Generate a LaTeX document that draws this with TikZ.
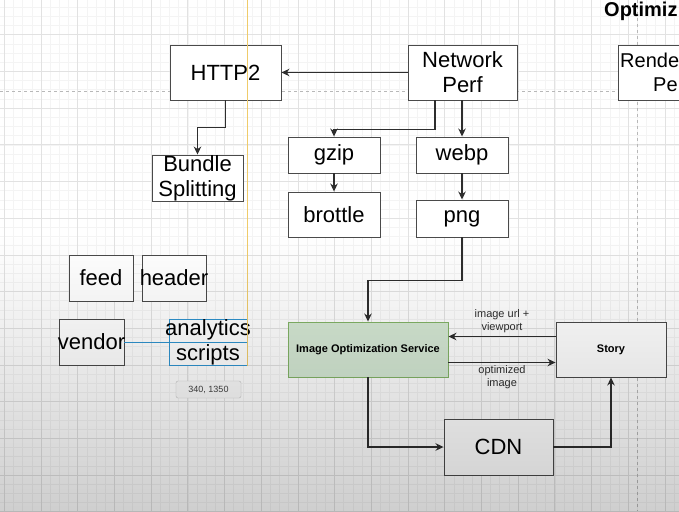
\documentclass[tikz,border=0pt]{standalone}
\usepackage{fontspec}
\setmainfont{Liberation Sans}
\usetikzlibrary{arrows.meta}
\definecolor{gridminor}{HTML}{F4F4F4}
\definecolor{gridmajor}{HTML}{E2E2E2}
\definecolor{pageline}{HTML}{B8B8B8}
\definecolor{boxline}{HTML}{4A4A4A}
\definecolor{linkline}{HTML}{2E2E2E}
\definecolor{iosfill}{HTML}{D5E8D4}
\definecolor{iosline}{HTML}{82B366}
\definecolor{selblue}{HTML}{2F93CF}
\definecolor{guideyellow}{HTML}{EFCB6A}

\tikzset{
  box/.style={draw=boxline, fill=white, line width=0.95pt, inner sep=0pt,
    align=center, font=\fontsize{22}{25}\selectfont},
  smallbox/.style={box, font=\fontsize{11}{13}\selectfont\bfseries},
  note/.style={align=center, text=linkline, font=\fontsize{11}{13}\selectfont},
  link/.style={draw=linkline, line width=1.2pt, -{Stealth[length=8pt,width=7.5pt]}},
  tooltip/.style={draw=gray!45, fill=gray!4, rounded corners=2pt, inner sep=0pt,
    minimum width=65pt, minimum height=17pt, text=black!75,
    font=\fontsize{9}{10}\selectfont},
}

\begin{document}
\begin{tikzpicture}[x=1pt, y=-1pt]
  \useasboundingbox (0,0) rectangle (679,511);
  \fill[white] (0,0) rectangle (679,511);

  % canvas grid
  \foreach \k in {0,...,75}
    \draw[gridminor, line width=0.6pt] ({-4.875+\k*9.175},0) -- ++(0,511);
  \foreach \k in {0,...,56}
    \draw[gridminor, line width=0.6pt] (0,{-2+\k*9.175}) -- ++(679,0);
  \foreach \k in {0,...,18}
    \draw[gridmajor, line width=0.7pt] ({4.3+\k*36.7},0) -- ++(0,511);
  \foreach \k in {1,...,14}
    \draw[gridmajor, line width=0.7pt] (0,{-2+\k*36.7}) -- ++(679,0);
  \draw[pageline, dashed, line width=0.7pt] (0,91) -- (679,91);
  \draw[pageline, dashed, line width=0.7pt] (637,0) -- (637,511);

  \node[anchor=base west, font=\fontsize{20}{24}\selectfont\bfseries, inner sep=0pt] (title) at (604,17) {Optimiz};

  \node[box, minimum width=111pt, minimum height=55pt] (http) at (225.5,72.5) {HTTP2};
  \node[box, minimum width=109pt, minimum height=55pt] (net) at (462.5,72.5) {Network\\Perf};
  \fill[white] (618,45) rectangle (679,100);
  \draw[boxline, line width=0.95pt] (679,45) -- (618,45) -- (618,100) -- (679,100);
  \node[anchor=west, font=\fontsize{20}{25}\selectfont, inner sep=0pt] (render) at (620,60) {Rende};
  \node[anchor=west, font=\fontsize{20}{25}\selectfont, inner sep=0pt] (perf) at (653,85) {Pe};

  \node[box, minimum width=91pt, minimum height=46pt] (bundle) at (197.5,178) {Bundle\\Splitting};
  \node[box, minimum width=92pt, minimum height=36pt] (gzip) at (334,155) {gzip};
  \node[box, minimum width=92pt, minimum height=45pt] (brottle) at (334,214.5) {brottle};
  \node[box, minimum width=92pt, minimum height=36pt] (webp) at (462,155) {webp};
  \node[box, minimum width=92pt, minimum height=37pt] (png) at (462,218.5) {png};

  \node[box, minimum width=64pt, minimum height=46pt] (feed) at (101,278) {feed};
  \node[box, minimum width=64pt, minimum height=46pt, inner xsep=-3pt] (header) at (174,278) {header};
  \node[box, minimum width=65pt, minimum height=46pt, inner xsep=-1.5pt] (vendor) at (91.5,342) {vendor};
  \node[box, draw=selblue, line width=1pt, minimum width=78pt, minimum height=46pt,
    inner xsep=-4pt] (analytics) at (208,342) {analytics\\scripts};
  \draw[selblue, line width=0.9pt] (vendor.east) -- (analytics.east);
  \draw[guideyellow, line width=1.1pt] (analytics.south east) -- (analytics.south east |- 0,0);
  \node[tooltip] (coords) at (208.5,389.5) {340, 1350};

  \node[smallbox, draw=iosline, fill=iosfill, minimum width=160pt, minimum height=55pt] (ios) at (368,349.5) {Image Optimization Service};
  \node[smallbox, minimum width=110pt, minimum height=55pt] (story) at (611,349.5) {Story};
  \node[box, minimum width=109pt, minimum height=56pt] (cdn) at (498.5,447) {CDN};

  \draw[link] (net.west) -- (http.east);
  \draw[link] (http.south) -- ++(0,27) -| (bundle.north);
  \draw[link] ([xshift=-27.5pt]net.south) -- ++(0,29) -| (gzip.north);
  \draw[link] (webp.north |- net.south) -- (webp.north);
  \draw[link] (gzip.south) -- (brottle.north);
  \draw[link] (webp.south) -- (png.north);
  \draw[link] (png.south) -- ++(0,43) -| (ios.north);
  \draw[link] ([yshift=13pt]story.west) -- node[above, note] (urlnote) {image url +\\viewport} ([yshift=13pt]ios.east);
  \draw[link] ([yshift=-13pt]ios.east) -- node[below, note, inner sep=2pt] (optnote) {optimized\\image} ([yshift=-13pt]story.west);
  \draw[link] (ios.south) |- (cdn.west);
  \draw[link] (cdn.east) -| (story.south);

  % video overlay darkening towards the bottom
  \begin{scope}[blend mode=multiply]
    \shade[top color=white, bottom color=black!19] (0,235) rectangle (679,511);
  \end{scope}
\end{tikzpicture}
\end{document}
